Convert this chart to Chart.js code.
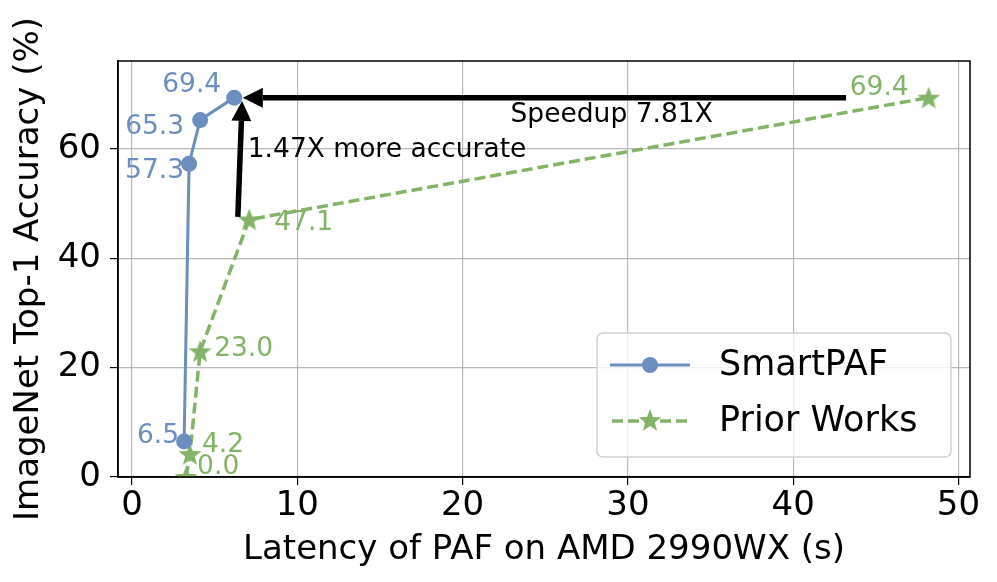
<!DOCTYPE html>
<html>
<head>
<meta charset="utf-8">
<script src="https://cdn.jsdelivr.net/npm/chart.js@4/dist/chart.umd.min.js"></script>
<style>
  html, body { margin: 0; padding: 0; background: #fff; }
  #wrap { width: 997px; height: 582px; }
</style>
</head>
<body>
<div id="wrap"><canvas id="myChart" width="997" height="582"></canvas></div>
<script>
// data
var smartLatency = [3.15, 3.45, 4.12, 6.18];
var smartAcc = [6.5, 57.3, 65.3, 69.4];
var priorLatency = [3.27, 3.5, 4.12, 7.09, 48.2];
var priorAcc = [0.0, 4.2, 23.0, 47.1, 69.4];
var xTicks = [0, 10, 20, 30, 40, 50];
var yTicks = [0, 20, 40, 60];

var blue = '#6c8ebf';
var green = '#82b366';
var font = "'DejaVu Sans', sans-serif";

function toPoints(xs, ys) {
    return xs.map(function (x, i) { return { x: x, y: ys[i] }; });
}

// filled five point star for the prior works marker
function makeStar(size, color) {
    var c = document.createElement('canvas');
    c.width = size; c.height = size;
    var g = c.getContext('2d');
    var cx = size / 2, cy = size / 2 + size * 0.04;
    var R = size / 2, r = R * 0.42;
    g.beginPath();
    for (var i = 0; i < 10; i++) {
        var rad = i % 2 === 0 ? R : r;
        var a = -Math.PI / 2 + i * Math.PI / 5;
        g.lineTo(cx + rad * Math.cos(a), cy + rad * Math.sin(a));
    }
    g.closePath();
    g.fillStyle = color;
    g.fill();
    return c;
}
var star = makeStar(24, green);

// label offsets (px) relative to each point
var smartLabelPos = [[-5, -5, 'right'], [-5, 7, 'right'], [-16, 7, 'right'], [-13, -13, 'right']];
var priorLabelPos = [[11, -10, 'left'], [12, -9, 'left'], [14, -2, 'left'], [25, 4, 'left'], [-79, -10, 'left']];

var overlay = {
    id: 'overlay',
    afterDatasetsDraw: function (chart) {
        var c = chart.ctx, xs = chart.scales.x, ys = chart.scales.y, a = chart.chartArea;
        c.save();

        // full box around the plot
        c.strokeStyle = '#000';
        c.lineWidth = 1.5;
        c.strokeRect(a.left, a.top, a.right - a.left, a.bottom - a.top);

        c.font = '26.5px ' + font;
        c.textBaseline = 'middle';
        smartLatency.forEach(function (x, i) {
            var p = smartLabelPos[i];
            c.fillStyle = blue;
            c.textAlign = p[2];
            c.fillText(smartAcc[i].toFixed(1), xs.getPixelForValue(x) + p[0], ys.getPixelForValue(smartAcc[i]) + p[1]);
        });
        priorLatency.forEach(function (x, i) {
            var p = priorLabelPos[i];
            c.fillStyle = green;
            c.textAlign = p[2];
            c.fillText(priorAcc[i].toFixed(1), xs.getPixelForValue(x) + p[0], ys.getPixelForValue(priorAcc[i]) + p[1]);
        });

        // arrows
        function arrow(x0, y0, x1, y1) {
            var ax = xs.getPixelForValue(x0), ay = ys.getPixelForValue(y0);
            var bx = xs.getPixelForValue(x1), by = ys.getPixelForValue(y1);
            var ang = Math.atan2(by - ay, bx - ax);
            var hl = 20, hw = 10;
            var ex = bx - hl * Math.cos(ang), ey = by - hl * Math.sin(ang);
            c.strokeStyle = '#000';
            c.lineWidth = 5.5;
            c.beginPath(); c.moveTo(ax, ay); c.lineTo(ex, ey); c.stroke();
            c.fillStyle = '#000';
            c.beginPath();
            c.moveTo(bx, by);
            c.lineTo(ex + hw * Math.sin(ang), ey - hw * Math.cos(ang));
            c.lineTo(ex - hw * Math.sin(ang), ey + hw * Math.cos(ang));
            c.closePath(); c.fill();
        }
        arrow(43.2, 69.4, 6.7, 69.4);
        arrow(6.4, 47.6, 6.66, 68.8);

        c.fillStyle = '#000';
        c.font = '26.5px ' + font;
        c.textAlign = 'left';
        c.fillText('Speedup 7.81X', xs.getPixelForValue(22.9), ys.getPixelForValue(66.2));
        c.fillText('1.47X more accurate', xs.getPixelForValue(7.0), ys.getPixelForValue(59.8));

        // legend box
        var lx = 597, ly = 333, lw = 354, lh = 124;
        c.fillStyle = 'rgba(255,255,255,0.8)';
        c.strokeStyle = '#d0d0d0';
        c.lineWidth = 1.5;
        c.beginPath();
        c.roundRect(lx, ly, lw, lh, 6);
        c.fill(); c.stroke();
        c.lineWidth = 3;
        c.strokeStyle = blue;
        c.beginPath(); c.moveTo(610, 365); c.lineTo(690, 365); c.stroke();
        c.fillStyle = blue;
        c.beginPath(); c.arc(650, 365, 8, 0, Math.PI * 2); c.fill();
        c.strokeStyle = green;
        c.lineWidth = 3.5;
        c.setLineDash([11, 5]);
        c.beginPath(); c.moveTo(612, 421); c.lineTo(688, 421); c.stroke();
        c.setLineDash([]);
        c.drawImage(star, 638, 408);
        c.fillStyle = '#000';
        c.font = '35px ' + font;
        c.textAlign = 'left';
        c.fillText('SmartPAF', 719, 366);
        c.fillText('Prior Works', 719, 422);
        c.restore();
    }
};

var ctx = document.getElementById('myChart').getContext('2d');
var myChart = new Chart(ctx, {
    type: 'scatter',
    data: {
        datasets: [{
            label: 'SmartPAF',
            data: toPoints(smartLatency, smartAcc),
            showLine: true,
            borderColor: blue,
            backgroundColor: blue,
            borderWidth: 3,
            pointRadius: 8,
            pointHoverRadius: 8,
            pointBorderWidth: 0
        }, {
            label: 'Prior Works',
            data: toPoints(priorLatency, priorAcc),
            showLine: true,
            borderColor: green,
            backgroundColor: green,
            borderWidth: 3.5,
            borderDash: [11, 5],
            pointStyle: star,
            pointRadius: 12
        }]
    },
    plugins: [overlay],
    options: {
        responsive: false,
        animation: false,
        layout: { padding: { top: 61, right: 27, left: 0, bottom: 0 } },
        plugins: {
            legend: { display: false },
            tooltip: { enabled: false }
        },
        scales: {
            x: {
                type: 'linear',
                min: -0.85,
                max: 50.7,
                afterBuildTicks: function (s) { s.ticks = xTicks.map(function (v) { return { value: v }; }); },
                afterFit: function (s) { s.height = 105; },
                grid: { color: '#b8b8b8', lineWidth: 1.2, tickLength: 8, tickColor: '#000' },
                border: { color: '#000', width: 1.5 },
                ticks: { color: '#000', font: { family: font, size: 34 }, padding: 1, maxRotation: 0 },
                title: { display: true, text: 'Latency of PAF on AMD 2990WX (s)', color: '#000', font: { family: font, size: 34 }, padding: { top: 0, bottom: 11 } }
            },
            y: {
                min: 0,
                max: 76.1,
                afterBuildTicks: function (s) { s.ticks = yTicks.map(function (v) { return { value: v }; }); },
                afterFit: function (s) { s.width = 118; },
                grid: { color: '#b8b8b8', lineWidth: 1.2, tickLength: 8, tickColor: '#000' },
                border: { color: '#000', width: 1.5 },
                ticks: { color: '#000', font: { family: font, size: 34 }, padding: 9 },
                title: { display: true, text: 'ImageNet Top-1 Accuracy (%)', color: '#000', font: { family: font, size: 34 }, padding: { top: 9, bottom: 0 } }
            }
        }
    }
});
</script>
</body>
</html>
